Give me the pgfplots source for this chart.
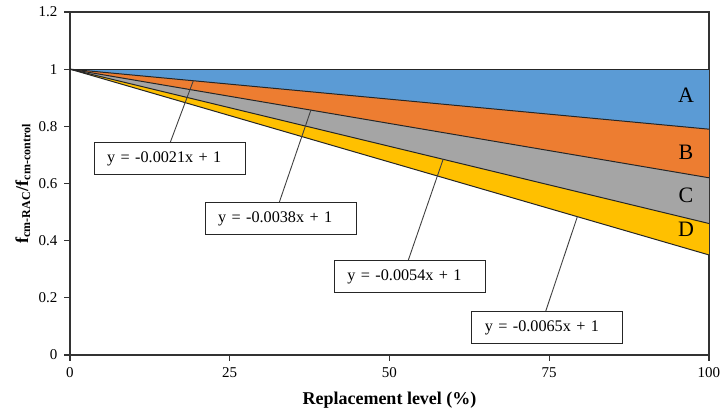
\documentclass[border=0pt]{standalone}
\usepackage{pgfplots}
\pgfplotsset{compat=1.18}
\usepackage{fontspec}
\setmainfont{Liberation Serif}
\definecolor{cA}{HTML}{5B9BD5}
\definecolor{cB}{HTML}{ED7D31}
\definecolor{cC}{HTML}{A5A5A5}
\definecolor{cD}{HTML}{FFC000}
\begin{document}
\begin{tikzpicture}
\begin{axis}[
  at={(0,0)}, anchor=south west,
  scale only axis, width=319.5pt, height=171.5pt,
  xmin=0, xmax=100, ymin=0, ymax=1.2,
  xtick={0,25,50,75,100}, ytick={0,0.2,0.4,0.6,0.8,1,1.2},
  yticklabels={0,0.2,0.4,0.6,0.8,1,1.2},
  tick align=outside, tick pos=left,
  major tick length=2.8pt,
  axis line style={line width=0.6pt, black!80},
  tick style={line width=0.6pt, black!80},
  ticklabel style={font=\fontsize{7.5}{9}\selectfont},
  /pgf/number format/assume math mode=true,
  xlabel={\textbf{Replacement level (\%)}},
  xlabel style={font=\fontsize{9}{11}\selectfont, at={(axis description cs:0.5,-0.131)}, anchor=center},
  ylabel={\textbf{f\textsubscript{cm-RAC}/f\textsubscript{cm-control}}},
  ylabel style={font=\fontsize{9}{11}\selectfont, at={(axis description cs:-0.0736,0.5)}, anchor=center},
]
\addplot[fill=cA, draw=none] coordinates {(0,1) (100,1) (100,0.79)} -- cycle;
\addplot[fill=cB, draw=none] coordinates {(0,1) (100,0.79) (100,0.62)} -- cycle;
\addplot[fill=cC, draw=none] coordinates {(0,1) (100,0.62) (100,0.46)} -- cycle;
\addplot[fill=cD, draw=none] coordinates {(0,1) (100,0.46) (100,0.35)} -- cycle;
\addplot[black!85, line width=0.5pt] coordinates {(0,1) (100,1)};
\addplot[black!85, line width=0.5pt] coordinates {(0,1) (100,0.79)};
\addplot[black!85, line width=0.5pt] coordinates {(0,1) (100,0.62)};
\addplot[black!85, line width=0.5pt] coordinates {(0,1) (100,0.46)};
\addplot[black!85, line width=0.5pt] coordinates {(0,1) (100,0.35)};
% leader lines
\draw[black!75, line width=0.45pt] (axis cs:15.66,0.742) -- (axis cs:19.3,0.9595);
\draw[black!75, line width=0.45pt] (axis cs:32.72,0.532) -- (axis cs:37.7,0.857);
\draw[black!75, line width=0.45pt] (axis cs:52.9,0.329) -- (axis cs:58.4,0.685);
\draw[black!75, line width=0.45pt] (axis cs:74.4,0.150) -- (axis cs:79.4,0.484);
% boxes
\tikzset{eqbox/.style={draw=black!85, line width=0.5pt, fill=white, minimum height=16pt,
  text width=62.5pt, inner xsep=6.5pt, inner ysep=0pt, align=left, anchor=center,
  font=\fontsize{8.1}{9}\selectfont}}
\node[eqbox] at (axis cs:15.6,0.686) {y = -0.0021x + 1};
\node[eqbox] at (axis cs:32.96,0.476) {y = -0.0038x + 1};
\node[eqbox] at (axis cs:53.2,0.273) {y = -0.0054x + 1};
\node[eqbox] at (axis cs:74.7,0.096) {y = -0.0065x + 1};
% region letters
\node[font=\fontsize{11}{12}\selectfont] at (axis cs:96.4,0.91) {A};
\node[font=\fontsize{11}{12}\selectfont] at (axis cs:96.4,0.71) {B};
\node[font=\fontsize{11}{12}\selectfont] at (axis cs:96.4,0.56) {C};
\node[font=\fontsize{11}{12}\selectfont] at (axis cs:96.4,0.438) {D};
\end{axis}
\pgfresetboundingbox
\useasboundingbox (-35pt,-30.5pt) rectangle (325pt,177.5pt);
\end{tikzpicture}
\end{document}
